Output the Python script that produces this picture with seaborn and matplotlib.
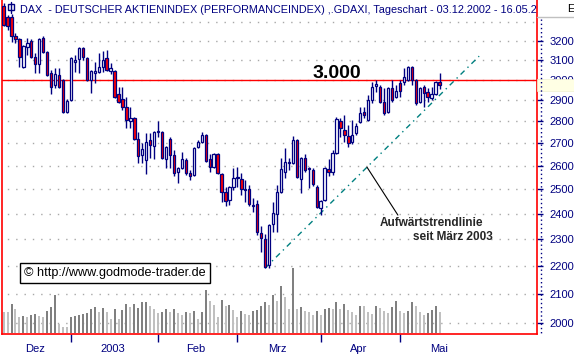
import numpy as np
import pandas as pd
import seaborn as sns
import matplotlib.pyplot as plt
from matplotlib.patches import Rectangle
from matplotlib.lines import Line2D
from matplotlib import transforms
from matplotlib.ticker import NullLocator

open_ = [3392, 3331, 3331, 3227, 3211, 3064, 3168, 3200, 3116, 3080,
         3216, 3142, 3034, 2974, 3024, 2999, 2843, 2900, 3090, 3105,
         3163, 3110, 2999, 3034, 3039, 3064, 3110, 3044, 3044, 2929,
         2905, 2866, 2801, 2815, 2718, 2646, 2624, 2713, 2686, 2750,
         2750, 2628, 2718, 2646, 2572, 2590, 2624, 2568, 2559, 2682,
         2704, 2736, 2628, 2594, 2650, 2564, 2488, 2455, 2508, 2547,
         2542, 2496, 2500, 2430, 2438, 2324, 2301, 2203, 2359, 2398,
         2488, 2572, 2611, 2611, 2713, 2542, 2633, 2585, 2581, 2508,
         2422, 2455, 2585, 2572, 2655, 2801, 2759, 2732, 2704, 2745,
         2796, 2843, 2805, 2900, 2969, 2964, 2890, 2843, 2959, 2915,
         2984, 2989, 2999, 3064, 2999, 2890, 2964, 2939, 2910, 2929,
         2989]
high = [3410, 3342, 3345, 3243, 3216, 3179, 3216, 3211, 3137, 3216,
        3227, 3147, 3049, 3059, 3059, 3004, 2905, 3116, 3126, 3168,
        3168, 3116, 3049, 3090, 3137, 3147, 3152, 3085, 3049, 2964,
        2964, 2915, 2866, 2820, 2750, 2700, 2745, 2745, 2754, 2801,
        2754, 2686, 2727, 2668, 2594, 2659, 2633, 2581, 2682, 2713,
        2750, 2740, 2650, 2655, 2655, 2568, 2508, 2513, 2590, 2594,
        2568, 2538, 2517, 2463, 2455, 2351, 2320, 2359, 2447, 2517,
        2633, 2677, 2633, 2732, 2718, 2637, 2650, 2594, 2590, 2517,
        2455, 2594, 2628, 2668, 2820, 2815, 2829, 2782, 2805, 2791,
        2866, 2866, 2925, 2989, 2999, 2974, 2959, 2964, 2999, 2974,
        2999, 3059, 3069, 3069, 3004, 2964, 2974, 2959, 2964, 2994,
        3034]
low = [3280, 3259, 3195, 3189, 3064, 3059, 3126, 3110, 3034, 3034,
       3137, 3019, 2929, 2959, 2959, 2838, 2838, 2895, 3039, 3034,
       3100, 2994, 2934, 2984, 3034, 3039, 3044, 3029, 2910, 2885,
       2852, 2768, 2768, 2713, 2611, 2611, 2564, 2633, 2628, 2727,
       2628, 2590, 2590, 2555, 2526, 2585, 2559, 2538, 2555, 2677,
       2700, 2615, 2572, 2590, 2564, 2447, 2430, 2435, 2496, 2508,
       2476, 2447, 2430, 2406, 2316, 2251, 2192, 2192, 2328, 2328,
       2484, 2547, 2581, 2607, 2547, 2484, 2572, 2504, 2513, 2422,
       2394, 2451, 2555, 2559, 2650, 2727, 2704, 2682, 2695, 2736,
       2791, 2815, 2801, 2885, 2939, 2885, 2829, 2838, 2890, 2910,
       2915, 2974, 2994, 2974, 2876, 2885, 2866, 2890, 2900, 2925,
       2954]
close = [3287, 3281, 3227, 3211, 3116, 3173, 3189, 3116, 3080, 3211,
         3142, 3024, 2964, 3029, 2964, 2843, 2895, 3110, 3100, 3163,
         3116, 2999, 3044, 3044, 3064, 3100, 3049, 3059, 2915, 2890,
         2866, 2805, 2815, 2718, 2642, 2673, 2704, 2691, 2750, 2754,
         2633, 2682, 2646, 2568, 2590, 2628, 2568, 2555, 2677, 2704,
         2736, 2620, 2594, 2650, 2568, 2488, 2451, 2508, 2547, 2551,
         2500, 2500, 2438, 2435, 2328, 2305, 2196, 2355, 2402, 2488,
         2585, 2615, 2615, 2713, 2551, 2633, 2581, 2590, 2521, 2426,
         2451, 2590, 2572, 2655, 2810, 2768, 2736, 2700, 2736, 2777,
         2838, 2829, 2900, 2964, 2979, 2890, 2838, 2959, 2900, 2944,
         2944, 3014, 3064, 2999, 2885, 2959, 2934, 2915, 2929, 2989,
         2974]
# Umsatz in relativen Einheiten, D = dunkler Balken, L = heller Balken
volume = [21, 21, 29, 24, 16, 17, 16, 18, 19, 17, 16, 22, 26, 38, 9, 6, 6, 16, 17, 18,
          19, 20, 24, 26, 21, 25, 21, 14, 24, 14, 23, 29, 26, 29, 25, 31, 31, 27, 24, 20,
          21, 24, 21, 24, 20, 18, 21, 20, 22, 14, 21, 43, 32, 28, 16, 33, 27, 28, 23, 16,
          22, 19, 18, 22, 23, 27, 31, 28, 38, 32, 47, 36, 24, 65, 24, 26, 22, 21, 18, 22,
          18, 24, 25, 24, 31, 24, 29, 23, 21, 18, 27, 27, 21, 19, 27, 25, 22, 20, 26, 32,
          22, 20, 22, 31, 27, 21, 18, 20, 23, 27, 21]
vol_tone = ("LLDLLDLDDLLDDDLLLDDDDDDDLDLLDLDDLDDDDLLLDDLDLLDLDL"
            "DDLLLDLDLLDLLDDDDLDLDLLDLDLLLDLDDLDLDLLLDLLLDLLLDD"
            "LLDDLLLDDDL")

holidays = ["2002-12-24", "2002-12-25", "2002-12-26", "2002-12-31",
            "2003-01-01", "2003-04-18", "2003-04-21", "2003-05-01"]
month_names = ["Dez", "2003", "Feb", "Mrz", "Apr", "Mai"]
price_ticks = [2000, 2100, 2200, 2300, 2400, 2500, 2600, 2700, 2800, 2900, 3000, 3100, 3200]
grid_levels = price_ticks + [3300]
resistance = 3000
trend_idx = [66, 120]
trend_price = [2192, 3120]

NAVY = "#000080"
RED = "#ff0000"

sns.set_style("white")
plt.rcParams["font.family"] = ["Liberation Sans", "DejaVu Sans"]

dates = pd.bdate_range("2002-12-03", "2003-05-16")
dates = dates[~dates.isin(pd.to_datetime(holidays))]
x = np.arange(len(dates))
month_start = [0] + [i for i in range(1, len(dates)) if dates[i].month != dates[i - 1].month]

fig = plt.figure(figsize=(5.74, 3.56), dpi=100)
W, H = 574, 356


def fx(px):
    return px / W


def fy(py):
    return 1 - py / H


ax = fig.add_axes([fx(2), fy(334), fx(537) - fx(2), fy(0) - fy(334)])
ax.set_yscale("log")
vol_ax = ax.twinx()

# Umsatz
vol_df = pd.DataFrame({"x": x, "vol": volume, "tone": list(vol_tone)})
sns.barplot(data=vol_df, x="x", y="vol", hue="tone", native_scale=True, dodge=False,
            palette={"D": "#808080", "L": "#c0c0c0"}, width=0.5, linewidth=0,
            errorbar=None, legend=False, ax=vol_ax)
vol_ax.set_ylim(-1, 333)
vol_ax.set_yticks([])
vol_ax.set_ylabel("")
for s in vol_ax.spines.values():
    s.set_visible(False)

# Gitter, Widerstand, Trendlinie
ax.hlines(grid_levels, -10, 200, colors="#a8a8a8", linestyles=(0, (1, 5)), lw=1, zorder=1)
ax.axhline(resistance, color=RED, lw=1, zorder=2)
ax.plot(trend_idx, trend_price, color="#008080", lw=1, ls=(0, (4, 3, 1, 3)), zorder=2)

# Kerzen
o = np.array(open_)
c = np.array(close)
lo_b = np.minimum(o, c)
hi_b = np.maximum(o, c)
ax.vlines(x, low, high, color=NAVY, lw=1, zorder=3)
ax.bar(x, hi_b - lo_b, bottom=lo_b, width=0.58, color=np.where(c >= o, "white", RED),
       edgecolor=NAVY, linewidth=0.9, zorder=4)

ax.set_xlim(-0.4, 134.6)
ax.set_ylim(1963.7, 3426)

# Achsen
ax.yaxis.tick_right()
ax.set_yticks(price_ticks)
ax.set_yticklabels([str(t) for t in price_ticks])
ax.yaxis.set_minor_locator(NullLocator())
ax.tick_params(axis="y", which="major", right=True, left=False, direction="out",
               length=4, width=1, color=NAVY, labelcolor=NAVY, labelsize=8, pad=5)

label_pos = []
bounds = month_start + [month_start[-1] + 21]
for a, b in zip(bounds[:-1], bounds[1:]):
    label_pos.append((a + b) / 2 - 0.5)
ax.set_xticks(month_start[1:])
ax.set_xticklabels([])
ax.set_xticks(label_pos, minor=True)
ax.set_xticklabels(month_names, minor=True)
ax.tick_params(axis="x", which="major", bottom=True, direction="out", length=6,
               width=1, color=NAVY)
ax.tick_params(axis="x", which="minor", bottom=True, length=0, labelcolor=NAVY,
               labelsize=8, pad=7)

for side in ["left", "right", "bottom"]:
    ax.spines[side].set_color(RED)
    ax.spines[side].set_linewidth(1.2)
ax.spines["top"].set_visible(False)

# Texte
ax.text((20 - 2) / 535, (334 - 13) / 334,
        "DAX  - DEUTSCHER AKTIENINDEX (PERFORMANCEINDEX) ,.GDAXI, Tageschart - 03.12.2002 - 16.05.2003",
        transform=ax.transAxes, fontsize=7.8, color=NAVY, va="baseline", ha="left",
        clip_on=True, zorder=6)
ax.text(78, 3008, "3.000", fontsize=14, fontweight="bold", color="black",
        ha="left", va="baseline", zorder=6)

pt_idx = 91.7
pt_price = np.exp(np.interp(pt_idx, trend_idx, np.log(trend_price)))
ax.annotate("", xy=(pt_idx, pt_price), xytext=(99.5, 2394),
            arrowprops=dict(arrowstyle="-", color="black", lw=0.8, shrinkA=0, shrinkB=0))
ax.text(95.0, 2363, "Aufwärtstrendlinie", fontsize=8.5, fontweight="bold",
        ha="left", va="center", zorder=6)
ax.text(103.3, 2308, "seit März 2003", fontsize=8.5, fontweight="bold",
        ha="left", va="center", zorder=6)

ax.text((24 - 2) / 535, (334 - 273) / 334, "\u00a9 http://www.godmode-trader.de",
        transform=ax.transAxes, fontsize=9.1, color="black", ha="left", va="center",
        bbox=dict(boxstyle="square,pad=0.32", fc="white", ec="black", lw=1), zorder=7)

# Kerzen-Symbol oben links
fig.add_artist(Line2D([fx(11), fx(11)], [fy(2), fy(13)], color=NAVY, lw=1))
fig.add_artist(Rectangle((fx(8), fy(10)), fx(6), fy(4) - fy(10), fc="white", ec=NAVY, lw=1))

# rechte Skala: Kopf, gepunktete Linie, Kursmarke
fig.add_artist(Line2D([fx(537), fx(574)], [fy(17), fy(17)], color="#c0c0c0", lw=1))
fig.text(fx(567), fy(9), "E", fontsize=8, color="black", va="center", ha="left")
fig.add_artist(Line2D([fx(541), fx(541)], [fy(19), fy(334)], color=NAVY, lw=1,
                      ls=(0, (1, 2))))
mark = transforms.blended_transform_factory(fig.transFigure, ax.transData)
fig.add_artist(Rectangle((fx(537), close[-1] / 1.0095), fx(574) - fx(537),
                         close[-1] * 1.0095 - close[-1] / 1.0095, transform=mark,
                         fc="#ffffe4", ec="#f0f0d0", lw=0.5))

fig.savefig("out.png", dpi=100)
